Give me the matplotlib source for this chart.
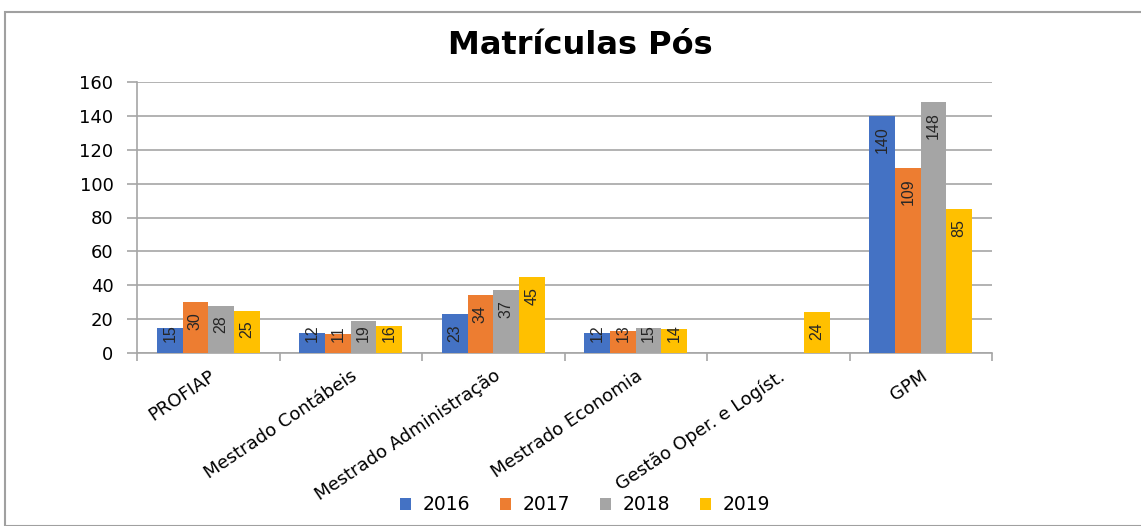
import numpy as np
import matplotlib
matplotlib.use("Agg")
import matplotlib.pyplot as plt
from matplotlib.patches import Rectangle

# dados do gráfico
cursos = ["PROFIAP", "Mestrado Contábeis", "Mestrado Administração",
          "Mestrado Economia", "Gestão Oper. e Logíst.", "GPM"]
anos = ["2016", "2017", "2018", "2019"]
v2016 = [15, 12, 23, 12, np.nan, 140]
v2017 = [30, 11, 34, 13, np.nan, 109]
v2018 = [28, 19, 37, 15, np.nan, 148]
v2019 = [25, 16, 45, 14, 24, 85]
cores = ["#4472C4", "#ED7D31", "#A5A5A5", "#FFC000"]
yticks = [0, 20, 40, 60, 80, 100, 120, 140, 160]

fig = plt.figure(figsize=(11.41, 5.26), dpi=100)
# moldura do gráfico
fig.patches.append(Rectangle((5 / 1141, 0), 1.0, 1 - 12 / 526, transform=fig.transFigure,
                             fill=False, edgecolor="#A0A0A0", linewidth=1.5))

ax = fig.add_axes([137 / 1141, 1 - 353 / 526, (992 - 137) / 1141, (353 - 82) / 526])

x = np.arange(len(cursos))
w = 0.18
series = [v2016, v2017, v2018, v2019]
for i, (vals, cor, ano) in enumerate(zip(series, cores, anos)):
    pos = x + (i - 1.5) * w
    bars = ax.bar(pos, vals, w, color=cor, label=ano, zorder=3)
    for b, v in zip(bars, vals):
        if np.isnan(v):
            continue
        txt = str(int(v))
        # rótulo dentro do topo; se não couber, fica apoiado perto da base
        comp = len(txt) * 5.2
        if v - 6 - comp < 6.5:
            ax.text(b.get_x() + w / 2, 6.5, txt, rotation=90, ha="center", va="bottom",
                    fontsize=11.5, family="Liberation Sans", color="#262626", zorder=4)
        else:
            ax.text(b.get_x() + w / 2, v - 6, txt, rotation=90, ha="center", va="top",
                    fontsize=11.5, family="Liberation Sans", color="#262626", zorder=4)

ax.set_xlim(-0.5, len(cursos) - 0.5)
ax.set_ylim(0, 160)
ax.set_yticks(yticks)
ax.yaxis.grid(True, color="#A6A6A6", linewidth=1.2, zorder=0)
ax.tick_params(axis="y", length=7, width=1.2, color="#A6A6A6", labelsize=13, pad=10)

ax.set_xticks(x)
ax.set_xticklabels(cursos, rotation=34, ha="right", rotation_mode="anchor",
                   fontsize=13, family="DejaVu Sans")
ax.tick_params(axis="x", length=0, pad=10)
ax.set_xticks(np.arange(len(cursos) + 1) - 0.5, minor=True)
ax.tick_params(axis="x", which="minor", length=6, color="#A6A6A6", width=1.2)

for s in ["top", "right"]:
    ax.spines[s].set_visible(False)
for s in ["left", "bottom"]:
    ax.spines[s].set_color("#A6A6A6")
    ax.spines[s].set_linewidth(1.2)

fig.text(580 / 1141, 1 - 46 / 526, "Matrículas Pós", ha="center", va="center",
         fontsize=23, fontweight="bold", family="DejaVu Sans")

fig.legend(loc="center", bbox_to_anchor=(585 / 1141, 1 - 505 / 526), ncol=4,
           frameon=False, fontsize=13.5, handlelength=0.6, handleheight=0.6,
           columnspacing=1.6, handletextpad=0.6)

fig.savefig("out.png", dpi=100)
